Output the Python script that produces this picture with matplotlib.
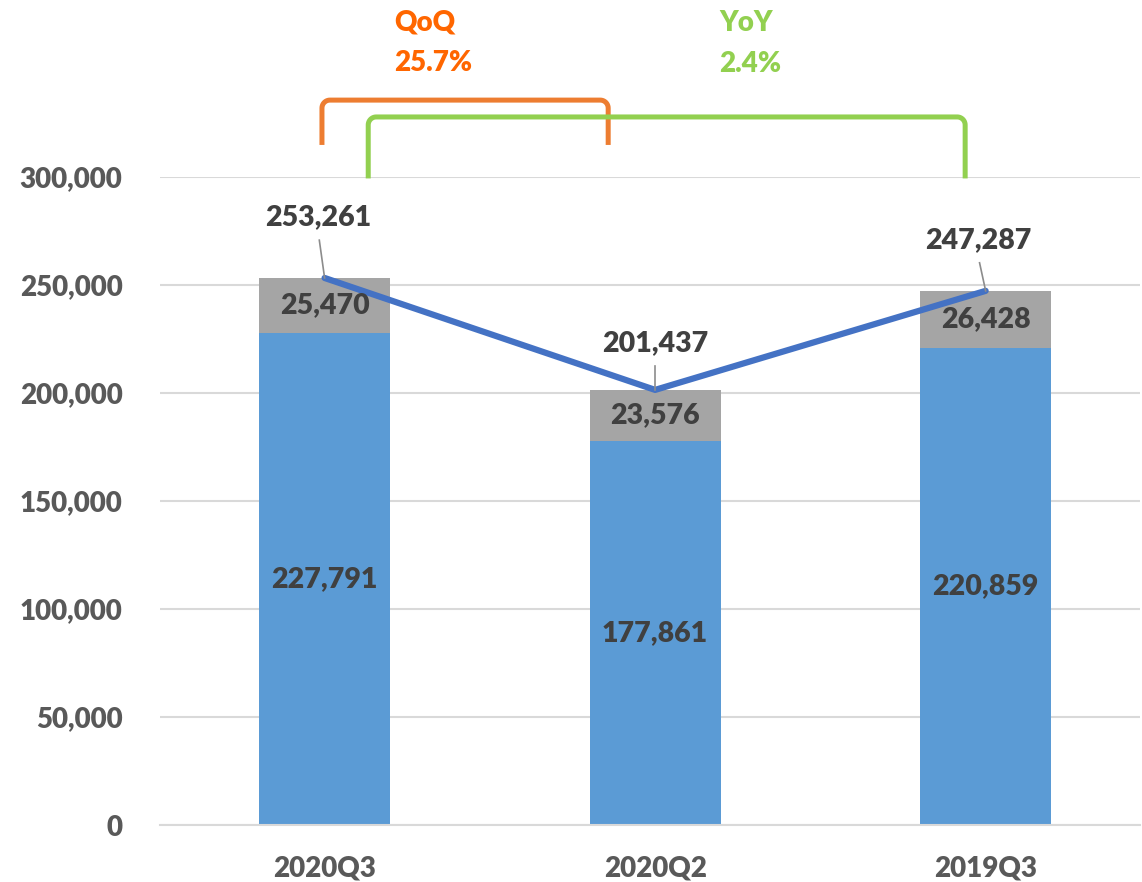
import numpy as np
import matplotlib.pyplot as plt

plt.rcParams['font.family'] = ['Lato', 'DejaVu Sans']
W = 800  # Lato heavy looks closest to the bold Calibri of the original

# data
quarters = ["2020Q3", "2020Q2", "2019Q3"]
base = [227791, 177861, 220859]
extra = [25470, 23576, 26428]
total = [253261, 201437, 247287]
yticks = [0, 50000, 100000, 150000, 200000, 250000, 300000]
qoq_label = ["QoQ", "25.7%"]
yoy_label = ["YoY", "2.4%"]

blue = '#5B9BD5'
grey = '#A5A5A5'
line_blue = '#4472C4'
orange = '#ED7D31'
orange_txt = '#FF6600'
green = '#92D050'
lab = '#404040'
tick = '#595959'

fig = plt.figure(figsize=(11.42, 8.82), dpi=100)
ax = fig.add_axes([160/1142, 57/882, 980/1142, 648/882])

x = np.arange(len(quarters))
ax.bar(x, base, width=0.396, color=blue, zorder=2)
ax.bar(x, extra, bottom=base, width=0.396, color=grey, zorder=2)
ax.plot(x, total, color=line_blue, lw=4.5, zorder=3, solid_capstyle='round')

for i in range(len(x)):
    ax.text(x[i], base[i] / 2, f"{base[i]:,}", ha='center', va='center',
            fontsize=20.5, color=lab, fontweight=W, zorder=4)
    ax.text(x[i], base[i] + extra[i] / 2, f"{extra[i]:,}", ha='center', va='center',
            fontsize=20.5, color=lab, fontweight=W, zorder=4)

# total labels with leader lines (offsets in data units)
offs = [(-0.02, 28000), (0.0, 21700), (-0.023, 23500)]
for i in range(len(x)):
    dx, dy = offs[i]
    ax.text(x[i] + dx, total[i] + dy, f"{total[i]:,}", ha='center', va='center',
            fontsize=20.5, color=lab, fontweight=W, zorder=4)
    ax.plot([x[i], x[i] + dx * 0.8], [total[i], total[i] + dy - 10500],
            color='#8C8C8C', lw=1.2, zorder=4)


def bracket(x0, x1, ytop, ybot, color):
    rx, ry = 0.024, 3700
    t = np.linspace(0, np.pi / 2, 12)
    xs = [x0]
    ys = [ybot]
    xs += list(x0 + rx - rx * np.cos(t))
    ys += list(ytop - ry + ry * np.sin(t))
    xs += list(x1 - rx + rx * np.sin(t))
    ys += list(ytop - ry + ry * np.cos(t))
    xs.append(x1)
    ys.append(ybot)
    ax.plot(xs, ys, color=color, lw=3.6, clip_on=False, zorder=5)


bracket(-0.008, 0.858, 335600, 316000, orange)
bracket(0.132, 1.938, 327800, 300500, green)

ax.text(0.21, 371500, qoq_label[0], color=orange_txt, fontsize=20, fontweight=W,
        va='center', ha='left')
ax.text(0.21, 353000, qoq_label[1], color=orange_txt, fontsize=20, fontweight=W,
        va='center', ha='left')
ax.text(1.195, 371500, yoy_label[0], color=green, fontsize=20, fontweight=W,
        va='center', ha='left')
ax.text(1.195, 352500, yoy_label[1], color=green, fontsize=20, fontweight=W,
        va='center', ha='left')

ax.set_xlim(-0.498, 2.467)
ax.set_ylim(0, 300000)
ax.set_yticks(yticks)
ax.set_yticklabels([f"{v:,}" for v in yticks])
ax.set_xticks(x)
ax.set_xticklabels(quarters)
ax.grid(axis='y', color='#D9D9D9', lw=1.5, zorder=0)
ax.set_axisbelow(True)
for s in ['top', 'right', 'left']:
    ax.spines[s].set_visible(False)
ax.spines['bottom'].set_color('#D9D9D9')
ax.spines['bottom'].set_linewidth(1.5)
ax.tick_params(axis='both', length=0, labelsize=20, labelcolor=tick)
ax.tick_params(axis='y', pad=27)
ax.tick_params(axis='x', pad=22)
for t in ax.get_xticklabels() + ax.get_yticklabels():
    t.set_fontweight(W)

plt.savefig('out.png', dpi=100)
